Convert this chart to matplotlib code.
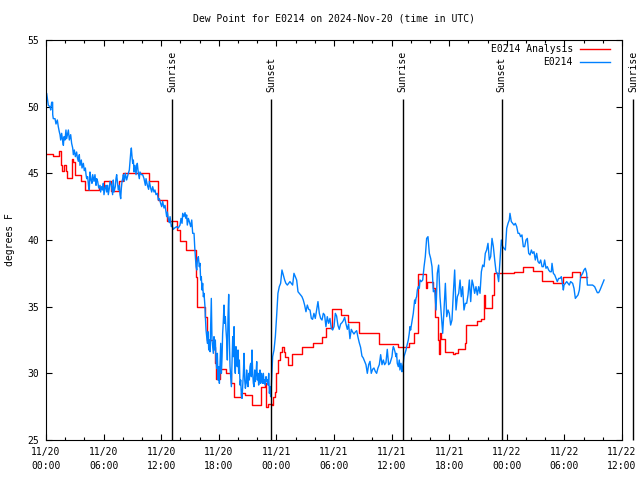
import numpy as np
import pandas as pd
import matplotlib
matplotlib.use("Agg")
import matplotlib.pyplot as plt
import matplotlib.dates as mdates
from matplotlib.lines import Line2D

start = pd.Timestamp("2024-11-20 00:00")
end_hours = 60

# observed dew point (E0214), hours since start / degrees F
obs_hours = [
    0.0,0.07,0.24,0.42,0.49,0.59,0.69,0.70,0.76,0.94,
    1.04,1.18,1.28,1.39,1.46,1.53,1.63,1.74,1.81,1.88,
    1.98,2.08,2.15,2.33,2.43,2.57,2.67,2.78,2.85,2.95,
    3.06,3.19,3.26,3.37,3.47,3.54,3.68,3.75,3.89,3.99,
    4.10,4.17,4.24,4.34,4.44,4.51,4.58,4.69,4.79,4.86,
    5.0,5.10,5.21,5.28,5.38,5.49,5.63,5.69,5.80,5.90,
    5.97,6.04,6.15,6.25,6.32,6.42,6.49,6.60,6.67,6.81,
    6.94,7.01,7.08,7.22,7.29,7.36,7.43,7.53,7.64,7.71,
    7.78,7.85,7.92,7.99,8.06,8.16,8.26,8.40,8.54,8.68,
    8.75,8.82,8.89,8.96,9.03,9.10,9.17,9.27,9.38,9.44,
    9.51,9.62,9.72,9.79,9.93,10.07,10.21,10.35,10.42,10.56,
    10.69,10.76,10.90,11.01,11.11,11.25,11.35,11.46,11.60,11.70,
    11.81,11.94,12.05,12.15,12.29,12.40,12.50,12.57,12.64,12.74,
    12.85,12.92,13.06,13.13,13.26,13.40,13.61,13.78,
    13.96,14.06,14.17,14.24,14.38,14.48,14.59,14.65,14.72,14.83,
    14.93,15.07,15.18,15.28,15.42,15.49,15.56,15.63,15.70,15.77,
    15.87,15.97,16.04,16.11,16.18,16.25,16.32,16.39,16.46,16.56,
    16.60,16.67,16.74,16.81,16.88,16.95,17.02,17.09,17.15,17.22,
    17.29,17.36,17.43,17.50,17.57,17.64,17.71,17.78,17.85,17.92,
    17.99,18.06,18.13,18.20,18.27,18.34,18.40,18.47,18.54,18.61,
    18.68,18.75,18.82,18.89,18.96,19.03,19.10,19.17,19.24,19.31,
    19.38,19.45,19.52,19.59,19.65,19.72,19.79,19.86,19.93,20.0,
    20.07,20.14,20.21,20.28,20.35,20.42,20.49,20.56,20.63,20.70,
    20.77,20.84,20.90,20.97,21.04,21.11,21.18,21.25,21.32,21.39,
    21.46,21.53,21.60,21.67,21.74,21.81,21.88,21.95,22.02,22.09,
    22.15,22.22,22.29,22.36,22.43,22.50,22.57,22.64,22.71,22.78,
    22.85,22.92,22.99,23.06,23.13,23.20,23.27,23.34,23.40,23.47,
    23.61,23.75,23.89,24.02,24.16,24.30,24.44,24.58,24.72,24.86,
    24.99,25.14,25.27,25.41,25.55,25.69,25.83,25.97,26.11,26.25,
    26.39,26.52,26.66,26.80,26.94,27.08,27.22,27.36,27.50,27.64,
    27.77,27.91,28.05,28.19,28.33,28.47,28.61,28.75,28.89,29.02,
    29.16,29.30,29.44,29.58,29.72,29.86,30.0,30.14,30.27,30.41,
    30.55,30.69,30.83,30.97,31.11,31.25,31.39,31.52,31.66,31.80,
    31.94,32.08,32.22,32.36,32.50,32.63,32.77,32.91,33.05,33.19,
    33.33,33.47,33.61,33.75,33.88,34.02,34.16,34.30,34.44,34.58,
    34.72,34.86,35.0,35.14,35.27,35.41,35.55,35.69,
    35.83,35.93,36.04,36.11,36.18,36.25,36.35,36.46,36.52,36.59,
    36.70,36.80,36.87,36.98,37.08,37.15,37.22,37.29,37.39,37.5,
    37.57,37.74,37.84,37.91,37.98,38.09,38.19,38.26,38.33,38.40,
    38.47,38.54,38.61,38.68,38.78,38.89,38.96,
    39.10,39.24,39.38,39.51,39.65,39.79,39.93,40.07,40.21,40.35,
    40.49,40.63,40.76,40.90,41.04,41.18,41.32,41.46,41.60,41.74,
    41.88,42.01,42.15,42.29,42.43,42.57,42.71,42.85,42.99,43.13,
    43.26,43.40,43.54,43.68,43.82,43.96,44.10,44.24,44.38,44.51,
    44.65,44.79,44.93,45.07,45.21,45.35,45.49,45.63,45.76,45.90,
    46.04,46.18,46.32,46.46,46.60,46.74,46.88,47.01,47.15,47.29,
    47.43,47.57,47.71,47.85,47.99,48.13,48.26,48.33,48.47,48.61,
    48.75,48.89,49.03,49.17,49.31,49.44,49.58,49.72,49.86,50.0,
    50.14,50.28,50.42,50.56,50.69,50.83,50.97,51.11,51.25,51.39,
    51.53,51.67,51.81,51.94,52.08,52.22,52.36,52.50,52.64,52.71,
    52.85,52.99,53.13,53.26,53.40,53.54,53.68,53.82,53.89,53.96,
    54.24,54.51,54.65,54.86,55.0,55.14,55.42,55.56,55.69,55.90,
    56.04,56.18,56.32,56.39,56.67,56.94,57.15,57.43,57.57,57.71,
    57.92,58.13,
]
obs_dewpt = [
    51.0,51.0,50.1,50.0,49.75,50.33,50.33,49.4,49.1,49.1,
    48.7,49.0,48.5,48.1,47.9,47.5,48.0,47.4,47.1,47.75,
    47.5,48.25,47.6,48.25,47.5,47.9,47.25,46.9,46.4,46.75,
    46.25,46.6,46.2,45.9,46.4,45.6,46.0,45.4,45.75,45.2,
    45.4,44.9,44.6,44.75,44.0,43.75,45.1,44.5,44.25,44.9,
    44.4,44.9,44.1,44.6,44.4,43.9,44.1,43.6,44.0,43.75,
    44.25,43.4,43.9,44.1,43.6,44.1,43.4,43.9,44.4,44.1,
    43.4,44.5,43.6,44.0,44.6,44.9,44.4,43.75,44.1,43.4,
    43.1,43.9,44.4,44.6,44.9,44.4,45.0,44.5,44.9,45.25,
    45.9,46.5,46.9,46.25,45.75,46.0,45.1,45.6,44.9,45.5,
    45.75,45.0,44.6,45.1,44.9,44.9,44.6,44.1,44.6,44.1,
    43.8,44.4,43.9,43.6,44.0,43.6,43.75,43.4,43.5,43.0,
    43.1,42.75,42.5,42.9,42.4,42.6,42.1,41.75,42.1,41.6,
    41.3,41.75,41.0,41.1,40.8,40.9,41.0,40.9,
    41.12,41.62,41.25,42.0,41.75,42.05,41.62,41.88,41.12,41.62,
    41.38,41.0,41.5,40.5,40.5,39.5,38.75,38.0,37.75,38.5,
    38.75,38.0,38.25,37.0,37.25,36.25,36.75,35.75,36.0,35.0,
    34.25,33.25,32.75,32.25,33.12,31.75,32.5,31.62,33.5,35.62,
    32.5,32.0,31.5,32.75,31.75,32.5,31.0,30.38,31.5,29.5,
    30.5,29.25,30.75,32.25,30.0,31.25,33.0,33.88,35.12,33.75,
    34.25,33.25,32.5,31.0,34.25,35.92,32.5,30.5,29.75,29.0,
    30.75,32.75,31.25,33.5,30.75,30.0,32.0,31.0,30.5,31.75,
    30.0,31.0,29.12,29.5,28.38,28.12,29.0,30.0,31.5,29.5,
    28.88,29.25,30.25,29.38,29.0,30.0,29.5,30.5,30.75,29.75,
    31.75,30.0,29.25,29.0,30.25,29.38,30.0,30.88,29.5,30.0,
    29.12,29.5,30.25,29.25,30.0,29.5,29.25,30.0,29.25,29.5,
    29.12,29.75,29.38,29.5,29.12,30.0,28.5,29.0,28.25,29.0,
    31.25,31.75,32.75,34.25,36.0,36.5,36.75,37.75,37.38,37.0,
    36.75,36.62,36.75,36.88,36.75,36.62,37.5,37.25,37.0,36.12,
    36.0,35.88,35.75,35.5,35.12,34.62,35.12,34.8,34.75,34.12,
    34.05,34.5,34.12,34.75,35.38,34.5,34.12,34.0,34.5,34.38,
    33.5,34.25,33.75,34.12,33.38,33.25,33.5,34.5,34.3,33.6,
    33.3,33.7,33.8,33.95,34.2,33.7,33.3,33.7,32.6,33.3,
    33.1,32.95,33.1,33.2,32.7,32.3,31.95,31.3,31.15,30.9,
    30.65,30.0,30.65,30.9,30.0,30.3,30.4,30.15,30.0,30.4,
    30.65,31.4,30.65,31.0,30.65,30.8,31.8,30.65,
    30.75,31.0,31.25,31.75,32.0,31.88,31.62,31.25,31.5,30.75,
    30.5,31.0,30.25,30.75,30.12,30.5,30.75,31.25,31.5,31.75,
    32.0,32.5,33.0,33.5,33.25,33.75,34.25,34.5,35.0,35.5,
    35.25,35.62,35.75,36.25,36.5,36.38,37.0,
    36.88,37.0,38.0,38.75,40.12,40.25,39.0,38.62,38.0,36.12,
    36.25,34.75,37.5,38.12,35.75,34.38,33.0,34.75,36.75,34.25,
    34.75,34.5,33.62,34.0,36.0,37.75,34.75,35.75,36.0,37.0,
    35.75,36.5,34.75,35.25,35.25,35.88,37.0,35.38,37.0,36.62,
    36.0,36.5,35.88,36.5,36.0,37.62,38.12,38.0,39.0,39.25,
    39.75,38.5,38.75,40.12,39.5,38.5,37.62,37.5,36.88,38.5,
    40.0,39.5,39.38,39.25,40.88,41.25,41.5,42.0,41.38,41.25,
    41.12,41.25,41.0,40.5,40.5,40.25,40.38,39.5,39.5,40.0,
    40.12,39.0,38.88,39.25,39.0,39.12,38.5,39.0,38.38,38.25,
    38.5,38.0,38.0,38.5,37.88,38.0,37.75,37.62,37.62,38.25,
    37.5,37.38,37.12,36.88,37.12,37.12,37.25,36.62,36.25,36.62,
    36.88,36.62,36.88,36.75,36.38,35.62,35.88,36.25,37.25,37.5,
    37.75,37.88,37.5,36.62,36.62,36.62,36.5,36.05,36.05,36.25,
    36.62,37.0,
]

# analysis dew point (E0214 Analysis), step changes
ana_hours = [
    0.0,0.76,1.39,1.53,1.67,1.9,2.08,2.22,2.71,2.85,
    2.99,3.68,4.1,5.56,6.04,6.74,7.64,8.06,10.7,11.7,
    12.64,13.6,14.0,14.6,15.6,15.75,16.6,16.72,16.81,17.45,
    17.6,17.72,18.1,18.75,19.25,19.6,20.35,20.7,21.5,22.35,
    22.8,22.92,23.15,23.5,23.65,23.85,24.0,24.2,24.4,24.6,
    24.75,24.9,25.2,25.66,26.63,27.8,28.7,29.13,29.76,30.73,
    31.5,32.6,34.7,36.7,37.8,38.33,38.7,39.55,39.7,40.35,
    40.5,40.8,40.97,41.05,41.15,41.56,42.4,42.6,42.95,43.65,
    43.8,44.86,45.3,45.6,45.75,46.5,46.65,48.7,49.65,50.7,
    51.7,52.8,53.9,54.8,55.6,56.4,
]
ana_dewpt = [
    46.43,46.33,46.68,45.63,45.18,45.63,45.18,44.63,46.08,45.83,
    44.88,44.43,43.73,44.0,44.43,43.68,44.43,45.0,44.4,43.0,
    41.45,40.75,39.95,39.25,37.25,35.0,34.2,33.0,32.5,32.0,
    30.75,29.6,30.3,30.0,29.25,28.25,28.5,28.38,27.6,29.0,
    29.25,27.5,27.7,27.6,28.2,28.6,30.0,31.0,31.6,32.0,
    31.6,31.25,30.63,31.45,31.95,32.3,32.7,33.37,34.8,34.37,
    33.87,33.05,32.2,31.95,32.3,33.05,37.45,36.37,36.87,36.37,
    34.25,32.5,31.45,33.0,32.6,31.63,31.45,31.55,31.8,32.3,
    33.63,33.95,34.1,35.85,34.87,35.85,37.55,37.63,37.95,37.7,
    36.95,36.8,37.25,37.6,37.25,37.25,
]

sun_hours = [13.15, 23.47, 37.15, 47.45, 61.15]
sun_labels = ["Sunrise", "Sunset", "Sunrise", "Sunset", "Sunrise"]
y_ticks = [25, 30, 35, 40, 45, 50, 55]


def to_time(h):
    return start + pd.to_timedelta(np.asarray(h, dtype=float), unit="h")


FONT = "DejaVu Sans Mono"
FS = 7
plt.rcParams["font.family"] = [FONT]
plt.rcParams["font.size"] = FS

fig = plt.figure(figsize=(6.4, 4.8), dpi=100)
ax = fig.add_axes([46 / 640, 40 / 480, 576 / 640, 400 / 480])

red = "#ff0000"
blue = "#0080ff"

ax.step(to_time(ana_hours), ana_dewpt, where="post", color=red, lw=1.0)
ax.plot(to_time(obs_hours), obs_dewpt, color=blue, lw=1.0)

ax.set_xlim(start, start + pd.Timedelta(hours=end_hours))
ax.set_ylim(25, 55)

ax.vlines(to_time(sun_hours), 25, 50.55, color="black", lw=1.0, clip_on=False)
for t, lab in zip(to_time(sun_hours), sun_labels):
    ax.text(t, 51.1, lab, rotation=90, ha="center", va="bottom",
            fontsize=FS, clip_on=False)

ax.xaxis.set_major_locator(mdates.HourLocator(byhour=[0, 6, 12, 18]))
ax.xaxis.set_minor_locator(mdates.HourLocator(byhour=range(0, 24, 2)))
ax.xaxis.set_major_formatter(mdates.DateFormatter("%m/%d\n%H:%M"))
ax.set_yticks(y_ticks)

ax.tick_params(which="both", direction="in", top=True, right=True,
               width=0.8, labelsize=FS, colors="black")
ax.tick_params(which="major", length=4.5)
ax.tick_params(which="minor", length=2.2)
ax.tick_params(axis="x", which="major", pad=5)
ax.tick_params(axis="y", which="major", pad=5)
for s in ax.spines.values():
    s.set_linewidth(0.8)

ax.set_title("Dew Point for E0214 on 2024-Nov-20 (time in UTC)",
             fontsize=FS, pad=13)
fig.text(10 / 640, 0.5, "degrees F", rotation=90, ha="center", va="center",
         fontsize=FS)

# legend (top right, text right-aligned)
leg_items = [("E0214 Analysis", red), ("E0214", blue)]
for i, (lab, col) in enumerate(leg_items):
    yy = (440 - 49 - 13.5 * i) / 400
    ax.text((573 - 46) / 576, yy, lab, transform=ax.transAxes,
            ha="right", va="center", fontsize=FS)
    ax.add_line(Line2D([(580 - 46) / 576, (610 - 46) / 576], [yy, yy],
                       transform=ax.transAxes, color=col, lw=1.0))

fig.canvas.draw()
for lab in ax.get_xticklabels():
    lab.set_linespacing(1.55)

fig.savefig("out.png", dpi=100)
